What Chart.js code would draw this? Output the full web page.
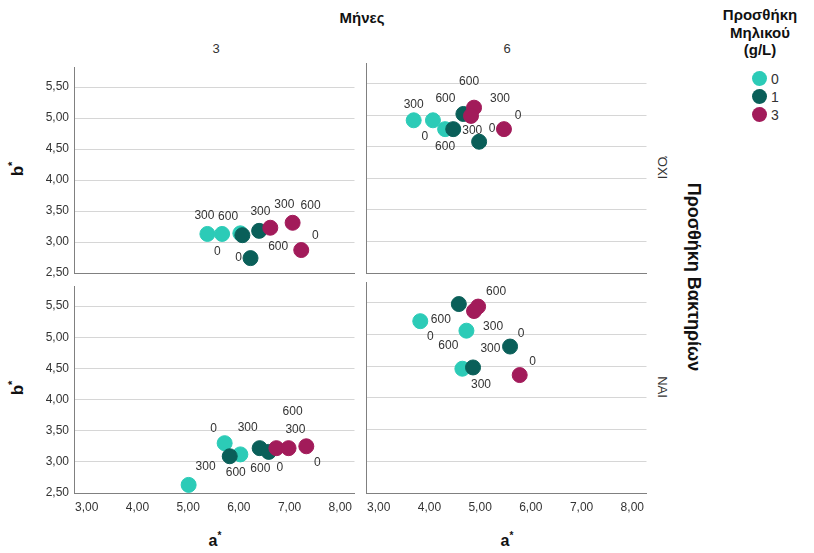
<!DOCTYPE html>
<html>
<head>
<meta charset="utf-8">
<script src="https://cdn.jsdelivr.net/npm/chart.js@4.4.0/dist/chart.umd.min.js"></script>
<style>
  body { margin: 0; background: #fff; width: 814px; height: 553px; position: relative; overflow: hidden;
         font-family: 'Liberation Sans', Arial, sans-serif; color: #111; }
  .panel { position: absolute; }
  .txt { position: absolute; white-space: nowrap; transform: translate(-50%, -50%); }
  .bold { font-weight: bold; font-size: 15px; }
  .strip { font-size: 13px; color: #333; }
  .rotL { transform: translate(-50%, -50%) rotate(-90deg); }
  .rotR { transform: translate(-50%, -50%) rotate(90deg); }
  #legend { position: absolute; left: 700px; top: 6px; width: 120px; text-align: center; }
  #legend .title { font-weight: bold; font-size: 15px; line-height: 17.5px; }
  .item { position: absolute; left: 52px; height: 16px; font-size: 14px; line-height: 16px; }
  .dot { position: absolute; left: 0; top: 0; width: 15px; height: 15px; border-radius: 50%; }
  .item span { position: absolute; left: 19px; top: 0; color: #333; }
</style>
</head>
<body>

<div class="txt bold" style="left:362px; top:17px;">Μήνες</div>
<div class="txt strip" style="left:216px; top:48px;">3</div>
<div class="txt strip" style="left:507px; top:48px;">6</div>

<div class="txt bold rotL" style="left:17px; top:169px; font-size:17px;">b<sup style="font-size:11px">*</sup></div>
<div class="txt bold rotL" style="left:17px; top:388px; font-size:17px;">b<sup style="font-size:11px">*</sup></div>
<div class="txt bold" style="left:215px; top:540px; font-size:16px;">a<sup style="font-size:10px">*</sup></div>
<div class="txt bold" style="left:507px; top:540px; font-size:16px;">a<sup style="font-size:10px">*</sup></div>

<div class="txt strip rotR" style="left:662px; top:168px;">ΌΧΙ</div>
<div class="txt strip rotR" style="left:662px; top:387px;">ΝΑΙ</div>
<div class="txt bold rotR" style="left:693px; top:277px; font-size:18px;">Προσθήκη Βακτηρίων</div>

<div id="legend"><div class="title">Προσθήκη<br>Μηλικού<br>(g/L)</div></div>

<div class="panel" id="p00"><canvas id="c00"></canvas></div>
<div class="panel" id="p01"><canvas id="c01"></canvas></div>
<div class="panel" id="p10"><canvas id="c10"></canvas></div>
<div class="panel" id="p11"><canvas id="c11"></canvas></div>

<script>
// ---- DATA ----
const appleLevels = ['0', '1', '3'];
const xTicks = [3, 4, 5, 6, 7, 8];
const yTicks = [2.5, 3, 3.5, 4, 4.5, 5, 5.5];

// months 3, no bacteria
const aM3No = [[5.38, 5.67, 6.03], [6.07, 6.40, 6.23], [6.62, 7.06, 7.23]];
const bM3No = [[3.13, 3.13, 3.14], [3.11, 3.18, 2.74], [3.23, 3.31, 2.87]];
const lblM3No = [['300', '600', '0'], ['300', '600', '0'], ['300', '600', '0']];

// months 6, no bacteria
const aM6No = [[3.69, 4.07, 4.31], [4.47, 4.67, 4.98], [4.88, 4.82, 5.47]];
const bM6No = [[4.92, 4.92, 4.78], [4.78, 5.02, 4.58], [5.12, 4.99, 4.78]];
const lblM6No = [['300', '0', '600'], ['300', '600', '0'], ['600', '300', '0']];

// months 3, with bacteria
const aM3Yes = [[5.01, 5.72, 6.03], [5.82, 6.41, 6.59], [6.74, 6.98, 7.33]];
const bM3Yes = [[2.63, 3.30, 3.12], [3.09, 3.22, 3.16], [3.22, 3.22, 3.25]];
const lblM3Yes = [['300', '0', '600'], ['600', '300', '0'], ['300', '600', '0']];

// months 6, with bacteria
const aM6Yes = [[3.82, 4.73, 4.65], [4.58, 5.59, 4.86], [4.96, 4.88, 5.78]];
const bM6Yes = [[5.21, 5.06, 4.46], [5.48, 4.81, 4.48], [5.44, 5.37, 4.36]];
const lblM6Yes = [['0', '300', '600'], ['600', '0', '300'], ['600', '300', '0']];

// label placement (pixel offsets from each point)
const offM3No = [[[-3, -18], [6, -17], [-23, 18]], [[18, -23], [19, 16], [-12, 0]], [[14, -23], [18, -17], [14, -14]]];
const offM6No = [[[0, -16], [-8, 16], [0, 18]], [[19, 2], [-18, -15], [13, -13]], [[-5, -26], [29, -17], [14, -13]]];
const offM3Yes = [[[17, -18], [-11, -14], [20, 14]], [[6, 16], [-12, -20], [11, 16]], [[19, -18], [4, -36], [11, 16]]];
const offM6Yes = [[[10, 16], [24, 18], [-14, -23]], [[-18, 16], [11, -13], [8, 17]], [[18, -15], [19, 16], [13, -13]]];

// ---- STYLE ----
const colors = ['#2ccbb7', '#0a5f59', '#a21b5a'];
const FONT = "'Liberation Sans', Arial, sans-serif";
const YW = 74, PT = 8, PR = 6, XH = 34, PLOT_W = 283;

// legend
const legendEl = document.getElementById('legend');
appleLevels.forEach((lv, i) => {
  const d = document.createElement('div');
  d.className = 'item';
  d.style.top = (65 + i * 18) + 'px';
  d.innerHTML = `<div class="dot" style="background:${colors[i]}"></div><span>${lv}</span>`;
  legendEl.appendChild(d);
});

const pointLabelPlugin = {
  id: 'pointLabels',
  afterDatasetsDraw(chart, args, opts) {
    const ctx = chart.ctx;
    ctx.save();
    ctx.font = '12px ' + FONT;
    ctx.fillStyle = '#333';
    ctx.textAlign = 'center';
    ctx.textBaseline = 'middle';
    chart.data.datasets.forEach((ds, i) => {
      chart.getDatasetMeta(i).data.forEach((pt, j) => {
        const o = opts.offsets[i][j];
        ctx.fillText(opts.labels[i][j], pt.x + o[0], pt.y + o[1]);
      });
    });
    ctx.restore();
  }
};

const fmt = v => Number(v).toFixed(2).replace('.', ',');

function makePanel(id, plotLeft, plotTop, plotH, a, b, labels, offsets, showY, showX) {
  const box = document.getElementById('p' + id);
  const w = YW + PLOT_W + PR, h = PT + plotH + XH;
  box.style.left = (plotLeft - YW) + 'px';
  box.style.top = (plotTop - PT) + 'px';
  const cv = document.getElementById('c' + id);
  cv.width = w; cv.height = h;

  const datasets = appleLevels.map((lv, i) => ({
    label: lv,
    data: a[i].map((x, j) => ({ x: x, y: b[i][j] })),
    backgroundColor: colors[i],
    borderColor: colors[i],
    borderWidth: 1,
    pointRadius: 7.5,
    pointHoverRadius: 7.5,
    order: 3 - i,
  }));

  return new Chart(cv, {
    type: 'scatter',
    data: { datasets },
    plugins: [pointLabelPlugin],
    options: {
      responsive: false,
      devicePixelRatio: 1,
      animation: false,
      events: [],
      layout: { padding: { top: PT, right: PR, left: 0, bottom: 0 } },
      plugins: {
        legend: { display: false },
        tooltip: { enabled: false },
        pointLabels: { labels, offsets },
      },
      scales: {
        x: {
          type: 'linear', min: 2.75, max: 8.28,
          afterBuildTicks: s => { s.ticks = xTicks.map(v => ({ value: v })); },
          afterFit: s => { s.height = XH; },
          grid: { display: false, drawTicks: false },
          border: { display: true, color: '#808080', width: 1 },
          ticks: { display: showX, autoSkip: false, maxRotation: 0, padding: 7,
                   color: '#333', font: { family: FONT, size: 12 }, callback: fmt },
        },
        y: {
          type: 'linear', min: 2.5, max: 5.82,
          afterBuildTicks: s => { s.ticks = yTicks.map(v => ({ value: v })); },
          afterFit: s => { s.width = YW; },
          grid: { drawTicks: false, lineWidth: 1,
                  color: c => (c.tick && c.tick.value === 2.5) ? 'rgba(0,0,0,0)' : '#d6d6d6' },
          border: { display: true, color: '#808080', width: 1 },
          ticks: { display: showY, autoSkip: false, padding: 5,
                   color: '#333', font: { family: FONT, size: 12 }, callback: fmt },
        },
      },
    },
  });
}

makePanel('00', 74, 63, 210, aM3No, bM3No, lblM3No, offM3No, true, false);
makePanel('01', 366, 63, 210, aM6No, bM6No, lblM6No, offM6No, false, false);
makePanel('10', 74, 282, 211, aM3Yes, bM3Yes, lblM3Yes, offM3Yes, true, true);
makePanel('11', 366, 282, 211, aM6Yes, bM6Yes, lblM6Yes, offM6Yes, false, true);
</script>
</body>
</html>
